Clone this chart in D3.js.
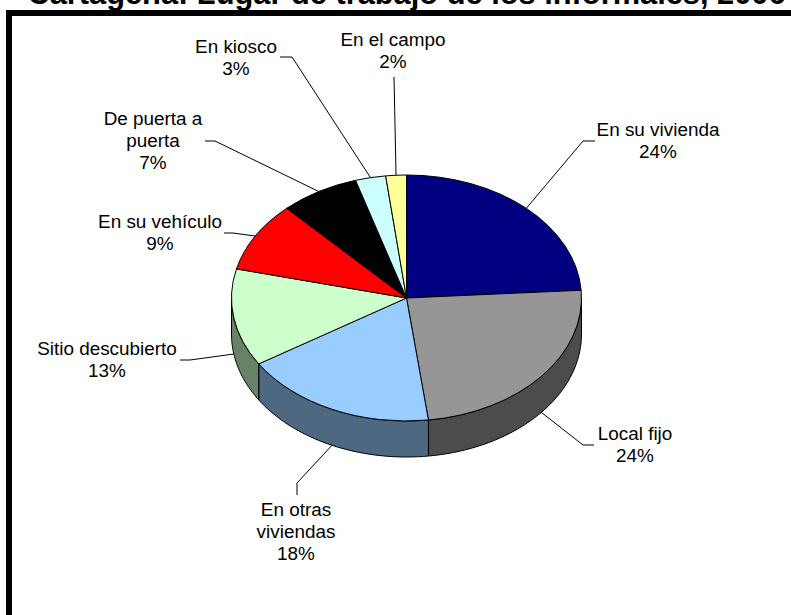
<!DOCTYPE html>
<html>
<head>
<meta charset="utf-8">
<style>
html, body { margin: 0; padding: 0; background: #fff; overflow: hidden; }
svg { display: block; }
text { font-family: "Liberation Sans", Arial, sans-serif; fill: #000; }
</style>
</head>
<body>
<div id="chart"></div>
<script src="https://cdn.jsdelivr.net/npm/d3@7"></script>
<script>
// values, labels show them rounded
var categories = ["En su vivienda", "Local fijo", "En otras viviendas", "Sitio descubierto",
                  "En su vehículo", "De puerta a puerta", "En kiosco", "En el campo"];
var shares = [24.0, 24.0, 18.0, 12.8, 9.2, 7.3, 2.8, 1.9];
var topColors = ["#000080", "#969696", "#99ccff", "#ccffcc", "#ff0000", "#000000", "#ccffff", "#ffff99"];
var sideColors = ["#000041", "#4c4c4c", "#4e6882", "#688268", "#820000", "#000000", "#688282", "#82824e"];
var labelLines = [["En su vivienda"], ["Local fijo"], ["En otras", "viviendas"], ["Sitio descubierto"],
                  ["En su vehículo"], ["De puerta a", "puerta"], ["En kiosco"], ["En el campo"]];

// label placement: x centre, y of first line, then the leader bend and end
var labelPos = [
    {x: 658, y: 131, bend: [583, 141], end: [595, 141]},
    {x: 635, y: 435, bend: [583, 445], end: [594, 445]},
    {x: 296, y: 511, bend: [297, 483], end: [297, 495]},
    {x: 107, y: 350, bend: [190, 360], end: [180, 360]},
    {x: 160, y: 223, bend: [233, 233], end: [224, 233]},
    {x: 153, y: 120, bend: [215, 141], end: [205, 141]},
    {x: 236, y: 48, bend: [292, 57], end: [280, 57]},
    {x: 393, y: 41, bend: [394, 77], end: [394, 77]}
];

var width = 791, height = 615;
var cx = 406.5, cy = 298, rx = 175, ry = 123, depth = 36;
var lineGap = 22.2;

var svg = d3.select("#chart")
    .append("svg")
    .attr("width", width)
    .attr("height", height);

svg.append("text")
    .attr("x", 406.5)
    .attr("y", 4)
    .attr("text-anchor", "middle")
    .attr("font-size", "30.8px")
    .attr("font-weight", "bold")
    .text("Cartagena: Lugar de trabajo de los informales, 2006");

// frame runs off the right and bottom of the picture
svg.append("rect")
    .attr("x", 9)
    .attr("y", 13)
    .attr("width", width + 40)
    .attr("height", height + 40)
    .attr("fill", "#fff")
    .attr("stroke", "#000")
    .attr("stroke-width", 6);

var pie = d3.pie().sort(null).value(function(d){ return d; });
var slices = pie(shares);

function rim(a, drop) {
    return [cx + rx * Math.sin(a), cy - ry * Math.cos(a) + drop];
}

var line = d3.line();

// side wall, only the front half of the rim shows
function wallPath(d) {
    var a0 = Math.max(d.startAngle, Math.PI / 2);
    var a1 = Math.min(d.endAngle, Math.PI * 1.5);
    if (a1 <= a0) return null;
    var n = 40;
    var angles = d3.range(n + 1).map(function(i){ return a0 + (a1 - a0) * i / n; });
    var upper = angles.map(function(a){ return rim(a, 0); });
    var lower = angles.slice().reverse().map(function(a){ return rim(a, depth); });
    return line(upper.concat(lower)) + "Z";
}

svg.append("g")
    .selectAll("path")
    .data(slices)
    .enter()
    .append("path")
    .attr("d", wallPath)
    .attr("fill", function(d, i){ return sideColors[i]; })
    .attr("stroke", "#000")
    .attr("stroke-width", 1);

var arc = d3.arc().innerRadius(0).outerRadius(rx);

svg.append("g")
    .attr("transform", "translate(" + cx + "," + cy + ") scale(1," + (ry / rx) + ")")
    .selectAll("path")
    .data(slices)
    .enter()
    .append("path")
    .attr("d", arc)
    .attr("fill", function(d, i){ return topColors[i]; })
    .attr("stroke", "#000")
    .attr("stroke-width", 1)
    .attr("vector-effect", "non-scaling-stroke");

// leaders start on the rim at the middle of each slice
svg.append("g")
    .selectAll("path")
    .data(slices)
    .enter()
    .append("path")
    .attr("d", function(d, i){
        var mid = (d.startAngle + d.endAngle) / 2;
        var front = Math.cos(mid) < 0 ? depth : 0;
        return line([rim(mid, front), labelPos[i].bend, labelPos[i].end]);
    })
    .attr("fill", "none")
    .attr("stroke", "#000")
    .attr("stroke-width", 1);

var labels = svg.append("g")
    .selectAll("text")
    .data(categories)
    .enter()
    .append("text")
    .attr("text-anchor", "middle")
    .attr("font-size", "18.9px");

labels.each(function(d, i){
    var rows = labelLines[i].concat(Math.round(shares[i]) + "%");
    d3.select(this).selectAll("tspan")
        .data(rows)
        .enter()
        .append("tspan")
        .attr("x", labelPos[i].x)
        .attr("y", function(r, j){ return labelPos[i].y + j * lineGap; })
        .attr("dominant-baseline", "middle")
        .text(function(r){ return r; });
});
</script>
</body>
</html>
